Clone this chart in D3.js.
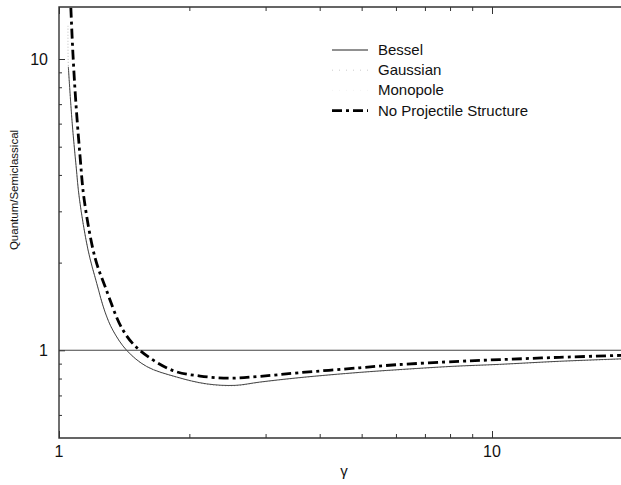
<!DOCTYPE html>
<html>
<head>
<meta charset="utf-8">
<script src="https://cdn.jsdelivr.net/npm/d3@7/dist/d3.min.js"></script>
<style>
  body { margin: 0; background: #fff; }
  text { font-family: "Liberation Sans", Arial, sans-serif; fill: #111; }
</style>
</head>
<body>
<svg id="chart" width="621" height="485"></svg>
<script>
// values
var besselGamma = [1.051, 1.072, 1.095, 1.115, 1.167, 1.222, 1.277, 1.332, 1.433, 1.594, 1.868, 2.193, 2.55, 2.91, 3.6, 4.95, 6.0, 8.1, 10.4, 14.3, 20];
var besselVal   = [9.4,   6.1,   4.3,   3.3,   2.21,  1.70,  1.355, 1.171, 1.0,   0.88,  0.81,  0.767, 0.758, 0.778, 0.806, 0.84, 0.857, 0.881, 0.895, 0.917, 0.935];

var gaussGamma = [1.049, 1.051, 1.072, 1.095, 1.115, 1.167, 1.222, 1.277, 1.332, 1.433, 1.594, 1.868, 2.193, 2.55, 2.91, 3.6, 4.95, 6.0, 8.1, 10.4, 14.3, 20];
var gaussVal   = [13.0,  9.4,   6.1,   4.3,   3.3,   2.21,  1.70,  1.355, 1.17,  1.0,   0.878, 0.808, 0.765, 0.756, 0.776, 0.804, 0.838, 0.855, 0.879, 0.893, 0.915, 0.933];

var noStructGamma = [1.065, 1.077, 1.093, 1.118, 1.144, 1.211, 1.277, 1.406, 1.537, 1.833, 2.118, 2.484, 2.91,  3.6,   4.95,  6.0,   8.44,  10.4,  14.3,  20];
var noStructVal   = [15.0,  10.4,  7.2,   4.67,  3.27,  2.08,  1.66,  1.171, 1.0,   0.852, 0.816, 0.802, 0.814, 0.838, 0.871, 0.892, 0.917, 0.929, 0.946, 0.961];

var refLevel = 1;

var xMajor = [1, 10];
var xMinor = [2, 3, 4, 5, 6, 7, 8, 9, 20];
var yMajor = [1, 10];
var yMinor = [0.6, 0.7, 0.8, 0.9, 2, 3, 4, 5, 6, 7, 8, 9];

var legendNames = ["Bessel", "Gaussian", "Monopole", "No Projectile Structure"];

var svg = d3.select("#chart");
var pLeft = 59, pRight = 621, pTop = 7, pBottom = 438;

var x = d3.scaleLog().domain([1, 20]).range([pLeft, pLeft + 433 * Math.log10(20)]);
var y = d3.scaleLog().domain([0.5, 15]).range([pBottom, pBottom - 291.3 * Math.log10(30)]);

svg.append("clipPath").attr("id", "plotclip")
  .append("rect").attr("x", pLeft).attr("y", pTop).attr("width", pRight - pLeft).attr("height", pBottom - pTop);

var plot = svg.append("g").attr("clip-path", "url(#plotclip)");

// reference line at 1
plot.append("line")
  .attr("x1", pLeft).attr("x2", pRight)
  .attr("y1", y(refLevel)).attr("y2", y(refLevel))
  .attr("stroke", "#444").attr("stroke-width", 1.1);

var line = d3.line()
  .x(function(d) { return x(d[0]); })
  .y(function(d) { return y(d[1]); })
  .curve(d3.curveCatmullRom.alpha(0.5));

function pairs(g, v) {
  return g.map(function(d, i) { return [d, v[i]]; });
}

plot.append("path")
  .attr("d", line(pairs(gaussGamma, gaussVal)))
  .attr("fill", "none").attr("stroke", "#bbb").attr("stroke-width", 1)
  .attr("stroke-dasharray", "1,2");

plot.append("path")
  .attr("d", line(pairs(besselGamma, besselVal)))
  .attr("fill", "none").attr("stroke", "#333").attr("stroke-width", 0.9);

plot.append("path")
  .attr("d", line(pairs(noStructGamma, noStructVal)))
  .attr("fill", "none").attr("stroke", "#000").attr("stroke-width", 2.8)
  .attr("stroke-dasharray", "10,4,3,4");

// axes, ticks inside
var axisCol = "#333";
function styleAxis(g) {
  g.select(".domain").remove();
  g.selectAll(".tick line").attr("stroke", axisCol).attr("stroke-width", 1);
}

svg.append("g").attr("transform", "translate(0," + pBottom + ")")
  .call(d3.axisBottom(x).tickValues(xMinor).tickSize(-4).tickFormat(""))
  .call(styleAxis);
svg.append("g").attr("transform", "translate(0," + pBottom + ")")
  .call(d3.axisBottom(x).tickValues(xMajor).tickSize(-7).tickFormat(""))
  .call(styleAxis);
svg.append("g").attr("transform", "translate(0," + pTop + ")")
  .call(d3.axisTop(x).tickValues(xMinor).tickSize(-4).tickFormat(""))
  .call(styleAxis);
svg.append("g").attr("transform", "translate(0," + pTop + ")")
  .call(d3.axisTop(x).tickValues(xMajor).tickSize(-7).tickFormat(""))
  .call(styleAxis);
svg.append("g").attr("transform", "translate(" + pLeft + ",0)")
  .call(d3.axisLeft(y).tickValues(yMinor).tickSize(-3).tickFormat(""))
  .call(styleAxis);
svg.append("g").attr("transform", "translate(" + pLeft + ",0)")
  .call(d3.axisLeft(y).tickValues(yMajor).tickSize(-6).tickFormat(""))
  .call(styleAxis);

// frame
svg.append("path")
  .attr("d", "M" + pRight + "," + pTop + "H" + pLeft + "V" + pBottom + "H" + pRight)
  .attr("fill", "none").attr("stroke", axisCol).attr("stroke-width", 1.4);

// tick labels
svg.selectAll(".xlab").data(xMajor).enter().append("text")
  .attr("x", function(d) { return x(d); })
  .attr("y", 457)
  .attr("text-anchor", "middle")
  .style("font-size", "16px")
  .text(function(d) { return d; });

svg.selectAll(".ylab").data(yMajor).enter().append("text")
  .attr("x", 48)
  .attr("y", function(d) { return y(d) + 6; })
  .attr("text-anchor", "end")
  .style("font-size", "16px")
  .text(function(d) { return d; });

svg.append("text")
  .attr("x", 344).attr("y", 476)
  .attr("text-anchor", "middle")
  .style("font-size", "15px")
  .text("γ");

svg.append("text")
  .attr("transform", "translate(18,190) rotate(-90)")
  .attr("text-anchor", "middle")
  .style("font-size", "11.5px")
  .text("Quantum/Semiclassical");

// legend
var legendStyles = [
  { color: "#222", width: 1, dash: null },
  { color: "#ccc", width: 1, dash: "1,6" },
  { color: "#f4f4f4", width: 1, dash: "1,6" },
  { color: "#000", width: 2.8, dash: "10,4,3,4" }
];
var lg = svg.append("g").attr("transform", "translate(332,55)");
legendNames.forEach(function(name, i) {
  var row = lg.append("g").attr("transform", "translate(0," + i * 20.2 + ")");
  var st = legendStyles[i];
  row.append("line")
    .attr("x1", 0).attr("x2", 36).attr("y1", -5).attr("y2", -5)
    .attr("stroke", st.color).attr("stroke-width", st.width)
    .attr("stroke-dasharray", st.dash);
  row.append("text")
    .attr("x", 46).attr("y", 0)
    .style("font-size", "15px")
    .text(name);
});
</script>
</body>
</html>
